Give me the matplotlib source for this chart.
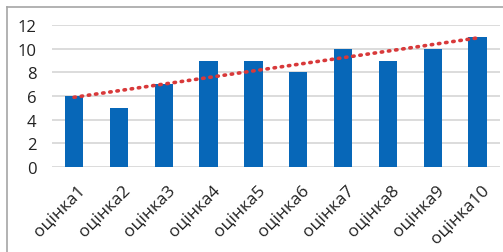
import matplotlib.pyplot as plt
import matplotlib.transforms as mtransforms
import numpy as np

# ---------------- data ----------------
labels = ['оцінка1', 'оцінка2', 'оцінка3', 'оцінка4', 'оцінка5',
          'оцінка6', 'оцінка7', 'оцінка8', 'оцінка9', 'оцінка10']
values = [6, 5, 7, 9, 9, 8, 10, 9, 10, 11]
yticks = [0, 2, 4, 6, 8, 10, 12]

plt.rcParams['font.family'] = ['Open Sans', 'DejaVu Sans']

fig = plt.figure(figsize=(5.03, 2.53), dpi=100)
ax = fig.add_axes([51.6 / 503, 1 - 168 / 253, (500 - 51.6) / 503, (168 - 26) / 253])

x = np.arange(len(values))
ax.bar(x, values, width=0.41, color='#0767B8', zorder=3)

# linear trend line (like Excel)
k, b = np.polyfit(x, values, 1)
ax.plot(x, k * x + b, linestyle=(0, (0.4, 1.6)), color='#D8393A', linewidth=2.6,
        dash_capstyle='round', zorder=4)

ax.set_xlim(-0.5, len(values) - 0.5)
ax.set_ylim(0, 12)
ax.set_yticks(yticks)
ax.set_yticklabels([str(t) for t in yticks], fontsize=12, color='#222222')
ax.set_xticks(x)
ax.set_xticklabels(labels, rotation=45, ha='right', rotation_mode='anchor',
                   fontsize=12.5, color='#222222')
ax.tick_params(length=0, pad=2)
ax.tick_params(axis='y', pad=11)
# shift the rotated labels down a bit, like Excel does
shift = mtransforms.ScaledTranslation(3 / 100, -11 / 100, fig.dpi_scale_trans)
for lbl in ax.get_xticklabels():
    lbl.set_transform(lbl.get_transform() + shift)
ax.grid(axis='y', color='#D9D9D9', linewidth=1.3, zorder=0)
for s in ax.spines.values():
    s.set_visible(False)

# outer frame (left and top edges visible)
fig.add_artist(plt.Line2D([7 / 503, 7 / 503], [0, 1 - 8 / 253], color='#A6A6A6',
                          linewidth=1.2, transform=fig.transFigure))
fig.add_artist(plt.Line2D([7 / 503, 1], [1 - 8 / 253, 1 - 8 / 253], color='#A6A6A6',
                          linewidth=1.2, transform=fig.transFigure))

fig.savefig('out.png', dpi=100)
